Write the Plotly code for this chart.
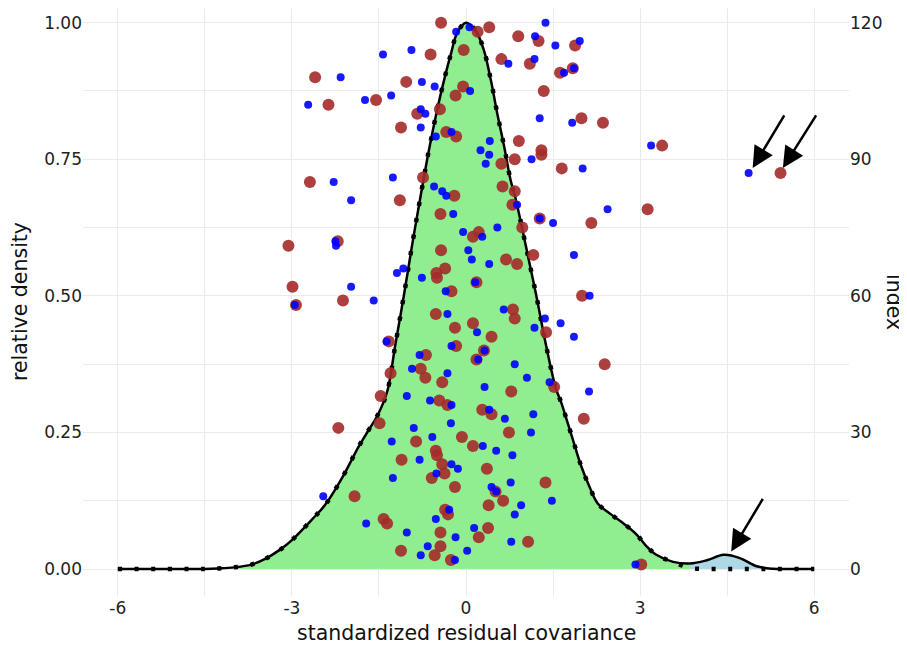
import plotly.graph_objects as go

# ---------------- data ----------------
dens_x = [-6.0, -5.0, -4.5, -4.27, -4.0, -3.7, -3.47, -3.21, -3.0, -2.66, -2.43, -2.14,
          -1.85, -1.68, -1.53, -1.36, -1.22, -1.07, -0.93, -0.78, -0.64, -0.5, -0.38,
          -0.26, -0.15, 0.0, 0.17, 0.31, 0.43, 0.54, 0.66, 0.77, 0.85, 1.03, 1.21, 1.38,
          1.55, 1.64, 1.73, 1.81, 1.98, 2.13, 2.27, 2.5, 2.73, 2.94, 3.1, 3.28, 3.57,
          3.86, 4.15, 4.44, 4.72, 5.01, 5.29, 5.6, 6.0]
dens_full = [0, 0, 0, 0.001, 0.003, 0.008, 0.018, 0.035, 0.053, 0.090, 0.117, 0.166,
             0.224, 0.254, 0.28, 0.324, 0.409, 0.501, 0.592, 0.684, 0.766, 0.839, 0.894,
             0.943, 0.982, 1.0, 0.985, 0.949, 0.894, 0.833, 0.772, 0.711, 0.68, 0.592, 0.501, 0.409,
             0.33, 0.305, 0.275, 0.248, 0.19, 0.15, 0.12, 0.10, 0.082, 0.063, 0.043, 0.026, 0.013,
             0.010, 0.016, 0.026, 0.020, 0.005, 0.0005, 0, 0]
dens_wo = [0, 0, 0, 0.001, 0.003, 0.008, 0.018, 0.035, 0.053, 0.090, 0.117, 0.166,
           0.224, 0.254, 0.28, 0.324, 0.409, 0.501, 0.592, 0.684, 0.766, 0.839, 0.894,
           0.943, 0.982, 1.0, 0.985, 0.949, 0.894, 0.833, 0.772, 0.711, 0.68, 0.592, 0.501, 0.409,
           0.33, 0.305, 0.275, 0.248, 0.19, 0.15, 0.12, 0.10, 0.082, 0.063, 0.043, 0.026, 0.013,
           0.002, 0, 0, 0, 0, 0, 0, 0]
split_x = 3.86

red_x = [-0.43, -0.61, -2.60, -1.03, -2.37, -1.55, -0.84, -0.45, -0.18, -1.12, -0.34, -0.17,
         -2.69, -0.74, -1.14, -0.20, -0.44, -3.06, -2.21, -0.43, -0.51, -0.36, -0.50, -2.99,
         -2.93, -2.12, -0.25, -0.52, -0.19,
         0.20, 0.40, 0.90, 1.25, 1.88, -0.04, 0.61, 1.10, 1.62, 1.84, -0.05, 1.34, 1.99, 2.36,
         0.91, 1.30, 1.30, 3.38, 0.84, 0.61, 1.65, 5.42, 0.63, 0.84, 0.80, 3.13, 1.27, 2.16,
         0.97, 0.22, 0.12, 0.69, 0.88, 1.16, 0.18, 2.00, 0.81, 0.84, 0.12,
         -1.33, -0.69, -1.30, -0.78, -0.70, -0.41, -1.47, -0.46, -0.32, -1.49, -2.20, -0.86,
         -0.52, -0.50, -1.11, -0.41, -0.37, -0.59, -0.19, -1.92, -1.42, -1.36, -0.36, -0.31,
         -0.44, -0.44, -1.12, -0.54, -0.26,
         1.38, 0.44, -0.17, 0.31, 0.18, 2.39, 0.78, 1.52, 2.03, 0.28, 0.44, 0.74, -0.07, 0.12,
         0.36, 1.37, 0.51, 0.64, 0.39, 0.38, 0.22, 1.07, 3.02]
red_idx = [120, 113, 108, 107, 102, 103, 100, 101, 104, 97, 96, 95, 85, 86, 81, 82, 78, 71,
           72, 70, 65, 66, 64, 62, 58, 59, 61, 56, 53,
           118, 119, 117, 116, 115, 114, 112, 111, 109, 110, 106, 105, 99, 98, 94, 92, 91, 93,
           90, 89, 88, 87, 84, 83, 80, 79, 77, 76, 75, 74, 73, 68, 67, 69, 63, 60, 57, 55, 54,
           50, 47, 43, 44, 42, 41, 38, 37, 36, 32, 31, 28, 26, 25, 24, 23, 21, 20, 18, 16, 11,
           10, 13, 12, 8, 5, 4, 3, 2,
           52, 51, 49, 48, 46, 45, 39, 40, 33, 35, 34, 30, 29, 27, 22, 19, 17, 15, 14, 9, 7, 6, 1]

blue_x = [-0.17, -1.43, -0.94, -2.16, -0.76, -0.54, -2.72, -1.74, -1.29, -0.78, -0.70, -0.78,
          -0.52, -0.25, -2.28, -1.26, -1.98, -0.55, -0.41, -0.34, -0.22, -2.25, -2.24, -1.19,
          -1.08, -0.76, -1.98, -1.59, -2.95, -0.35, -0.32,
          0.06, 1.37, 1.19, 1.54, 1.96, 0.73, 1.18, 1.69, 1.86, 0.07, 1.27, 1.83, 0.41, 0.25,
          0.40, 0.34, 1.13, 3.19, 2.01, 4.87, 0.88, 2.44, 1.27, 1.50, 0.54, -0.05, 0.28, 0.04,
          0.10, 0.40, 1.86, 0.16, 2.13, 0.65, 1.36, 1.63,
          -1.37, -0.80, -0.25, -0.93, -0.32, -1.02, -0.62, -0.25, -0.26, -0.90, -0.58, -1.28,
          -0.80, -0.25, -0.14, -0.51, -1.26, -2.46, -1.72, -0.52, -0.29, -1.02, -0.18, -0.66,
          -0.78, -0.19,
          0.19, 1.18, 1.86, 0.32, 0.21, 0.84, 1.05, 1.44, 0.32, 2.12, 0.40, 0.67, 1.16, 1.12,
          0.29, 0.52, 0.80, 0.77, 0.44, 0.52, 1.48, 0.95, 0.84, 0.14, 0.78, 0.02, 2.92]
blue_idx = [118, 113, 114, 108, 107, 106, 102, 103, 104, 101, 100, 97, 95, 96, 85, 86, 81, 84,
            83, 82, 78, 72, 71, 65, 66, 64, 62, 59, 58, 61, 56,
            119, 120, 117, 115, 116, 111, 112, 109, 110, 105, 99, 98, 94, 92, 91, 89, 90, 93,
            88, 87, 80, 79, 77, 76, 75, 74, 73, 70, 68, 67, 69, 63, 60, 57, 55, 54,
            50, 47, 49, 44, 43, 38, 37, 36, 32, 31, 29, 28, 24, 23, 22, 21, 20, 16, 10, 11, 13,
            8, 7, 5, 3, 2,
            52, 53, 51, 48, 46, 45, 42, 41, 40, 39, 35, 33, 34, 30, 27, 26, 25, 19, 18, 17, 15,
            14, 12, 9, 6, 4, 1]

x_ticks = [-6, -3, 0, 3, 6]
x_tick_text = ["-6", "-3", "0", "3", "6"]
y_ticks = [0, 0.25, 0.5, 0.75, 1.0]
y_tick_text = ["0.00", "0.25", "0.50", "0.75", "1.00"]
y2_ticks = [0, 30, 60, 90, 120]

# ---------------- figure ----------------
FONT = "DejaVu Sans"
green_x = [x for x in dens_x if x <= split_x]
green_y = [y for x, y in zip(dens_x, dens_full) if x <= split_x]
blue_fx = [x for x in dens_x if x >= split_x]
blue_fy = [y for x, y in zip(dens_x, dens_full) if x >= split_x]

fig = go.Figure()
fig.add_trace(go.Scatter(x=green_x, y=green_y, mode="lines", fill="tozeroy",
                         fillcolor="#90EE90", line=dict(width=0, shape="spline"),
                         hoverinfo="skip", showlegend=False))
fig.add_trace(go.Scatter(x=blue_fx, y=blue_fy, mode="lines", fill="tozeroy",
                         fillcolor="#ADD8E6", line=dict(width=0, shape="spline"),
                         hoverinfo="skip", showlegend=False))
fig.add_trace(go.Scatter(x=dens_x, y=dens_full, mode="lines",
                         line=dict(color="black", width=2.5, shape="spline"),
                         showlegend=False))
fig.add_trace(go.Scatter(x=dens_x, y=dens_wo, mode="lines",
                         line=dict(color="black", width=4.5, shape="spline",
                                   dash="4px,12.6px"),
                         showlegend=False))
fig.add_trace(go.Scatter(x=red_x, y=red_idx, mode="markers", yaxis="y2",
                         marker=dict(color="#A52A2A", size=12, opacity=0.9, line=dict(width=0)),
                         showlegend=False))
fig.add_trace(go.Scatter(x=blue_x, y=blue_idx, mode="markers", yaxis="y2",
                         marker=dict(color="#0000FF", size=8, opacity=0.9, line=dict(width=0)),
                         showlegend=False))

# the page adds an 8px body margin, so the figure is 8px smaller and shifted
W, H = 899, 638
ML, MR, MT, MB = 75, 58, 0, 50
PW, PH = W - ML - MR, H - MT - MB
ylo, yhi = -0.0494, 1.0269
grid = "#EBEBEB"
tickfont = dict(family=FONT, size=17, color="#222222")
fig.update_layout(
    width=W, height=H,
    margin=dict(l=ML, r=MR, t=MT, b=MB, autoexpand=False),
    paper_bgcolor="white", plot_bgcolor="white",
    font=dict(family=FONT, color="#222222"),
    xaxis=dict(range=[-6.6, 6.6], tickvals=x_ticks, ticktext=x_tick_text, showgrid=True,
               gridcolor=grid, automargin=False,
               gridwidth=1, zeroline=False, showline=False, ticks="", tickfont=tickfont,
               minor=dict(dtick=1.5, tick0=0, showgrid=True, gridcolor=grid, gridwidth=1)),
    yaxis=dict(range=[ylo, yhi], tickvals=y_ticks, ticktext=y_tick_text, showgrid=True,
               gridcolor=grid, gridwidth=1, zeroline=False, showline=False, ticks="",
               tickfont=tickfont, automargin=False,
               minor=dict(dtick=0.125, tick0=0, showgrid=True, gridcolor=grid, gridwidth=1)),
    yaxis2=dict(range=[ylo * 120, yhi * 120], tickvals=y2_ticks, overlaying="y", side="right",
                showgrid=False, zeroline=False, showline=False, ticks="", tickfont=tickfont,
                automargin=False),
)

arrow = dict(showarrow=True, arrowhead=2, arrowsize=1.7, arrowwidth=2.5, arrowcolor="black",
             xref="x", yref="y", axref="x", ayref="y", text="", standoff=0)
fig.add_annotation(x=4.94, y=0.734, ax=5.50, ay=0.833, **arrow)
fig.add_annotation(x=5.46, y=0.734, ax=6.05, ay=0.833, **arrow)
fig.add_annotation(x=4.57, y=0.032, ax=5.13, ay=0.131, **arrow)

title_font = dict(family=FONT, size=20.5, color="#111111")
fig.add_annotation(text="standardized residual covariance", xref="paper", yref="paper",
                   x=0.5, y=-37 / PH, xanchor="center", yanchor="middle",
                   showarrow=False, font=title_font)
fig.add_annotation(text="relative density", xref="paper", yref="paper",
                   x=(12 - ML) / PW, y=0.5, xanchor="center", yanchor="middle",
                   textangle=-90, showarrow=False, font=title_font)
fig.add_annotation(text="index", xref="paper", yref="paper",
                   x=(886 - ML) / PW, y=0.5, xanchor="center", yanchor="middle",
                   textangle=90, showarrow=False, font=title_font)

fig.write_html("out.html")
